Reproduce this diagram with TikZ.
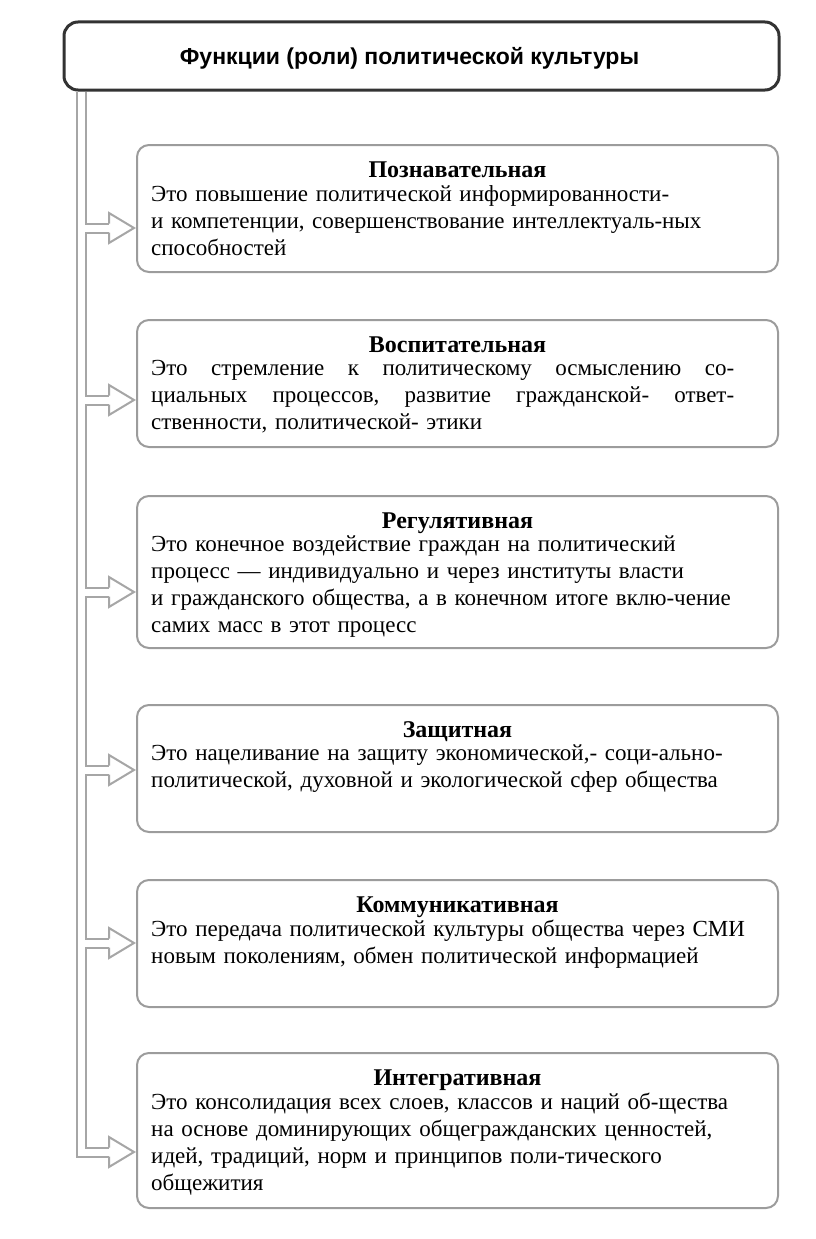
\documentclass[tikz,border=0pt]{standalone}
\usepackage{fontspec}
\setmainfont{Liberation Serif}
\newfontfamily\headfont{Liberation Sans}
\usepackage{tikz}
\usetikzlibrary{positioning, calc, backgrounds}
\definecolor{tubegray}{HTML}{A6A6A6}
\definecolor{boxgray}{HTML}{9C9C9C}

\begin{document}
\begin{tikzpicture}[
  x=1pt, y=1pt,
  line join=miter,
  tubeout/.style={draw=tubegray, line width=11pt},
  tubein/.style={draw=white, line width=7pt},
  head/.style={draw=tubegray, line width=2pt, fill=white},
  topbox/.style={
    draw=black!80, line width=3pt, rounded corners=14pt,
    minimum width=715pt, minimum height=68pt
  },
  toptext/.style={font=\headfont\bfseries\fontsize{23}{27}\selectfont},
  fbox/.style={draw=boxgray, line width=2pt, rounded corners=12pt,
               minimum width=641pt, fill=white},
  ftitle/.style={font=\bfseries\fontsize{24}{27}\selectfont, inner sep=0pt,
                 text height=16pt, text depth=5pt},
  fbody/.style={anchor=north west, align=left, text width=618pt, inner sep=0pt,
                font=\fontsize{23}{27}\selectfont}
]
\useasboundingbox (0,0) rectangle (816,-1239);
\node[topbox] (top) at (421.5,-56) {};
\node[toptext] (toptitle) at ([shift={(-12,-2)}]top.center)
  {Функции (роли) политической культуры};
% function boxes
\node[fbox, minimum height=127pt] (b1) at (457.5,-208.5) {};
\node[fbox, minimum height=127pt] (b2) at (457.5,-383.5) {};
\node[fbox, minimum height=152pt] (b3) at (457.5,-572)   {};
\node[fbox, minimum height=127pt] (b4) at (457.5,-768.5) {};
\node[fbox, minimum height=127pt] (b5) at (457.5,-943.5) {};
\node[fbox, minimum height=155pt] (b6) at (457.5,-1130.5) {};
\node[ftitle, below=17pt of b1.north] (t1) {Познавательная};
\node[ftitle, below=17pt of b2.north] (t2) {Воспитательная};
\node[ftitle, below=17pt of b3.north] (t3) {Регулятивная};
\node[ftitle, below=17pt of b4.north] (t4) {Защитная};
\node[ftitle, below=17pt of b5.north] (t5) {Коммуникативная};
\node[ftitle, below=17pt of b6.north] (t6) {Интегративная};
\node[fbody] (d1) at ([shift={(15,-41)}]b1.north west)
  {Это повышение политической информированности-\\
   и компетенции, совершенствование интеллектуаль-ных\\
   способностей};
\node[fbody] (d2) at ([shift={(15,-41)}]b2.north west)
  {\makebox[583pt][l]{Это\hfill стремление\hfill к\hfill политическому\hfill
     осмыслению\hfill со-}\\
   \makebox[583pt][l]{циальных\hfill процессов,\hfill развитие\hfill
     гражданской-\hfill ответ-}\\
   ственности, политической- этики};
\node[fbody] (d3) at ([shift={(15,-41)}]b3.north west)
  {Это конечное воздействие граждан на политический\\
   процесс — индивидуально и через институты власти\\
   и гражданского общества, а в конечном итоге вклю-чение\\
   самих масс в этот процесс};
\node[fbody] (d4) at ([shift={(15,-41)}]b4.north west)
  {Это нацеливание на защиту экономической,- соци-ально-\\
   политической, духовной и экологической сфер общества};
\node[fbody] (d5) at ([shift={(15,-41)}]b5.north west)
  {Это передача политической культуры общества через СМИ\\
   новым поколениям, обмен политической информацией};
\node[fbody] (d6) at ([shift={(15,-41)}]b6.north west)
  {Это консолидация всех слоев, классов и наций об-щества\\
   на основе доминирующих общегражданских ценностей,\\
   идей, традиций, норм и принципов поли-тического\\
   общежития};
% hollow connector
\coordinate (trunk) at ([xshift=19pt]top.south west);
\foreach \b/\d in {b1/19.5, b2/16.5, b3/20, b4/1.5, b5/-0.5, b6/21.5}
  \coordinate (h\b) at ([shift={(-27pt,-\d pt)}]\b.west);
\begin{scope}[on background layer]
  \foreach \pass in {tubeout, tubein} {
    \draw[\pass] (trunk) -- (trunk |- hb6) -- (hb6);
    \foreach \b in {b1,b2,b3,b4,b5}
      \draw[\pass] (trunk |- h\b) -- (h\b);
  }
  \foreach \b in {b1,b2,b3,b4,b5,b6}
    \filldraw[head] ($(h\b)+(0,4.5)$) -- ++(0,10.5)
      -- ([xshift=-2pt]\b.west |- h\b) -- ($(h\b)+(0,-15)$) -- ++(0,10.5);
\end{scope}
\end{tikzpicture}
\end{document}
